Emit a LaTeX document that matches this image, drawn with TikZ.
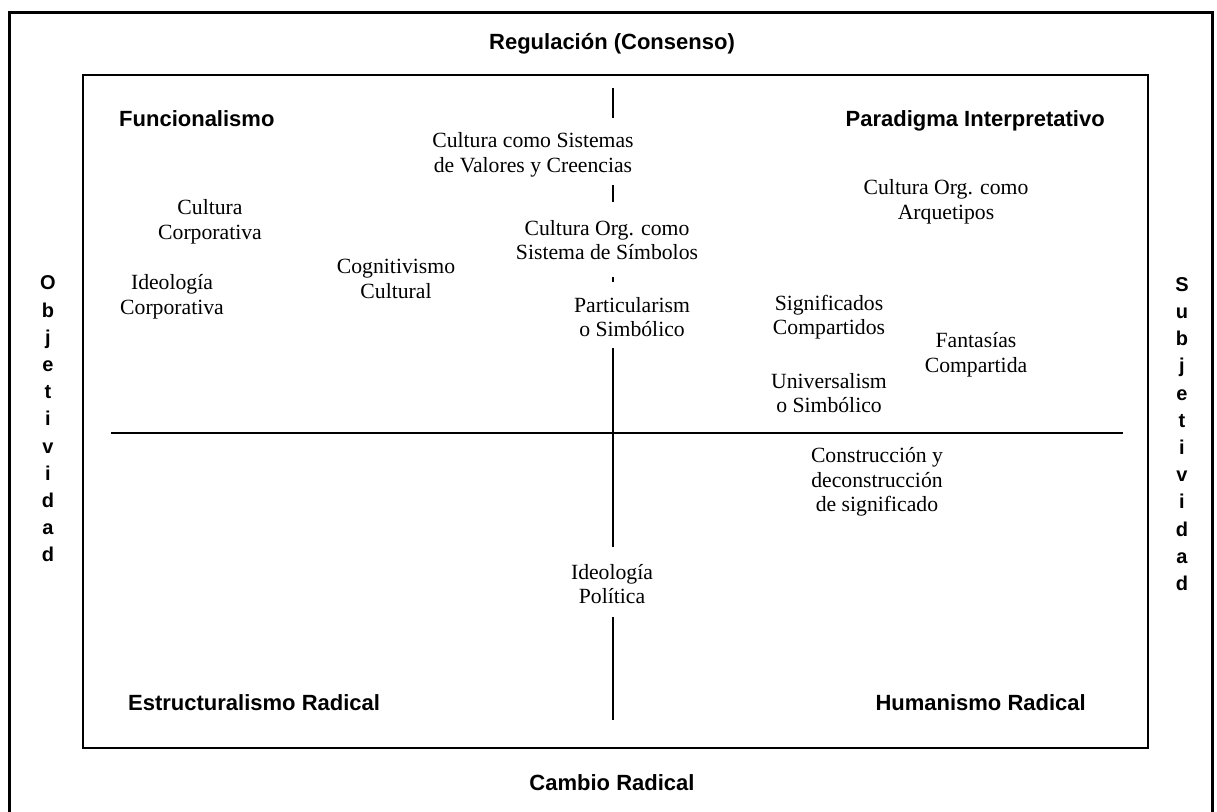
\documentclass[tikz,border=0pt]{standalone}
\usepackage{fontspec}
\setmainfont{Liberation Serif}
\setsansfont{Liberation Sans}
\begin{document}
\begin{tikzpicture}[x=1pt,y=-1pt,
  head/.style={font=\sffamily\bfseries\fontsize{22}{26}\selectfont, inner sep=0pt},
  item/.style={font=\fontsize{21.7}{24.5}\selectfont, align=center, inner sep=0pt},
  vert/.style={font=\sffamily\bfseries\fontsize{20}{27.2}\selectfont, align=center, inner sep=0pt},
  axisline/.style={line width=2pt},
  frame/.style={line width=1.5pt}]
\useasboundingbox (0,0) rectangle (1217,811);

% outer border (open at the bottom edge of the page)
\draw[line width=3pt] (9,816) -- (9,12) -- (1212,12) -- (1212,816);
% inner quadrant frame
\draw[frame] (83,75) rectangle (1148,748);

% axis labels
\node[head, anchor=base] (reg) at (612,49) {Regulación (Consenso)};
\node[head, anchor=base] (cam) at (612,790) {Cambio Radical};
\node[vert] (obj) at (48,419) {O\\b\\j\\e\\t\\i\\v\\i\\d\\a\\d};
\node[vert] (sub) at (1182,434) {S\\u\\b\\j\\e\\t\\i\\v\\i\\d\\a\\d};

% quadrant titles
\node[head, anchor=base west] (fun) at (119,126) {Funcionalismo};
\node[head, anchor=base east] (par) at (1105,126) {Paradigma Interpretativo};
\node[head, anchor=base west] (est) at (128,710) {Estructuralismo Radical};
\node[head, anchor=base east] (hum) at (1086,710) {Humanismo Radical};

% cultural approaches
\node[item] (ccs) at (533,155) {Cultura como Sistemas\\de Valores y Creencias};
\node[item] (sim) at (607,240) {Cultura Org. como\\Sistema de Símbolos};
\node[item] (par1) at (632,317) {Particularism\\o Simbólico};
\node[item] (ccorp) at (210,222) {Cultura\\Corporativa};
\node[item] (icorp) at (172,297) {Ideología\\Corporativa};
\node[item] (cog) at (396,279) {Cognitivismo\\Cultural};
\node[item] (arq) at (946,202) {Cultura Org. como\\Arquetipos};
\node[item] (sig) at (829,317) {Significados\\Compartidos};
\node[item] (fan) at (976,355) {Fantasías\\Compartida};
\node[item] (uni) at (829,393) {Universalism\\o Simbólico};
\node[item] (con) at (877,482) {Construcción y\\deconstrucción\\de significado};
\node[item] (pol) at (612,584) {Ideología\\Política};

% horizontal axis
\coordinate (hl) at (111,433);
\coordinate (hr) at (1123,433);
\draw[axisline] (hl) -- (hr);

% vertical axis, broken around the labels
\coordinate (v1a) at (613,88);  \coordinate (v1b) at (613,118);
\coordinate (v2a) at (613,185); \coordinate (v2b) at (613,202);
\coordinate (v3a) at (613,277); \coordinate (v3b) at (613,282);
\coordinate (v4a) at (613,348); \coordinate (v4b) at (613,547);
\coordinate (v5a) at (613,617); \coordinate (v5b) at (613,720);
\draw[axisline] (v1a) -- (v1b);
\draw[axisline] (v2a) -- (v2b);
\draw[axisline] (v3a) -- (v3b);
\draw[axisline] (v4a) -- (v4b);
\draw[axisline] (v5a) -- (v5b);
\end{tikzpicture}
\end{document}
